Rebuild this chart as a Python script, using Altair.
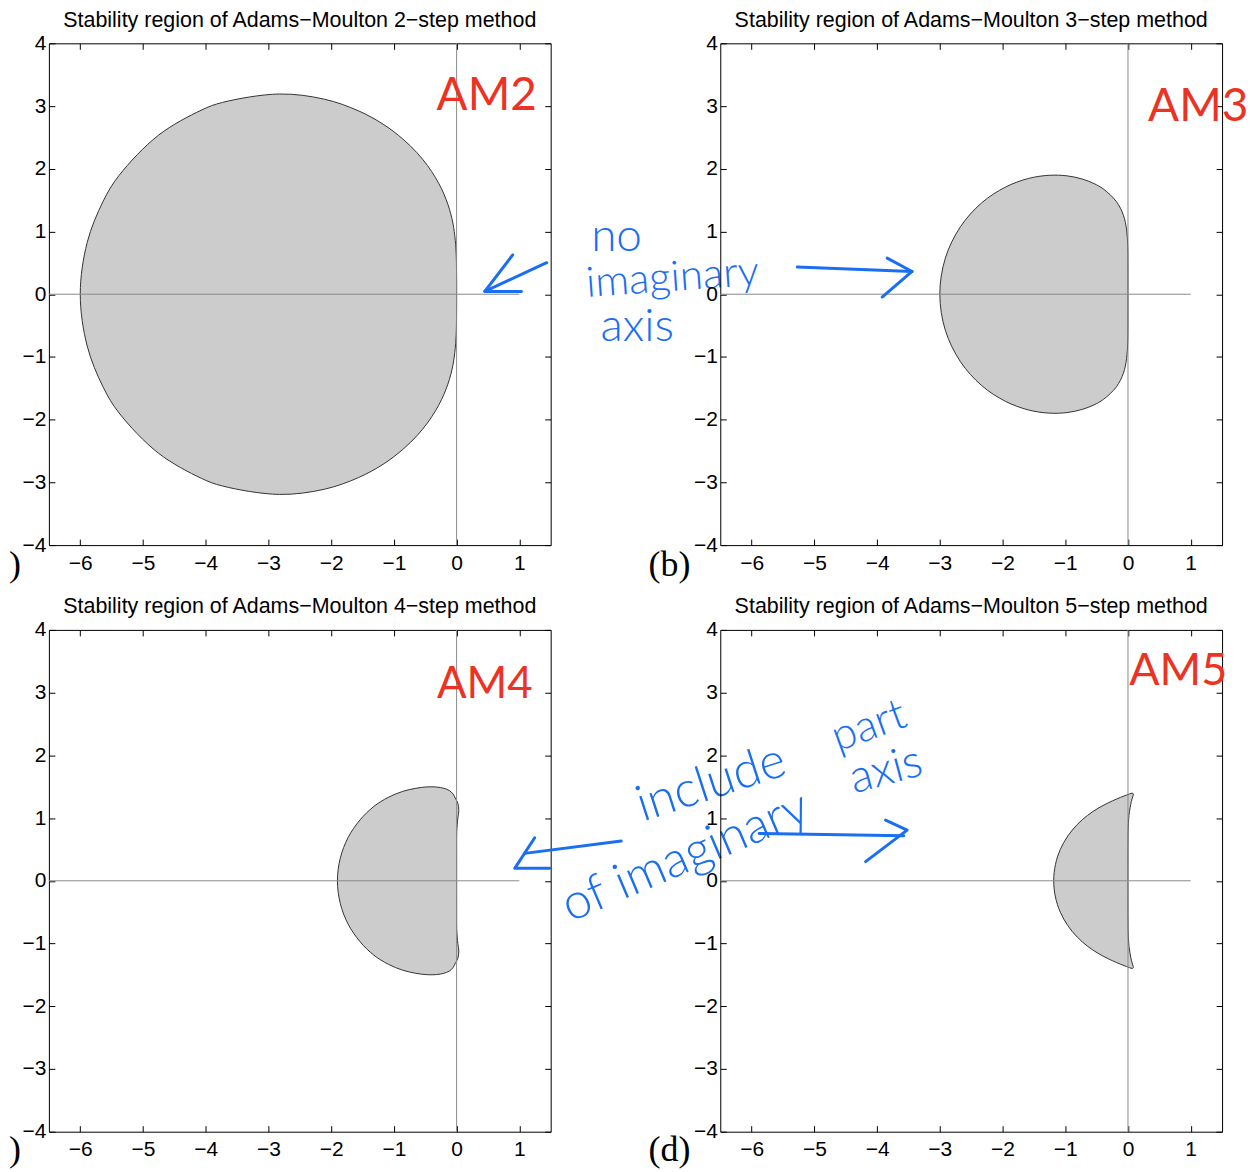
import altair as alt
import pandas as pd

FONT = "Liberation Sans"
HAND = "Lato"
RED = "#ec3323"
BLUE = "#1a6ef2"

TITLES = [
    "Stability region of Adams\u2212Moulton 2\u2212step method",
    "Stability region of Adams\u2212Moulton 3\u2212step method",
    "Stability region of Adams\u2212Moulton 4\u2212step method",
    "Stability region of Adams\u2212Moulton 5\u2212step method",
]
X_DOMAIN = [-6.5, 1.5]
Y_DOMAIN = [-4, 4]
XTICKS = [-6, -5, -4, -3, -2, -1, 0, 1]
YTICKS = [-4, -3, -2, -1, 0, 1, 2, 3, 4]

# zero lines (start, end)
HLINE_X = [-6.5, 1]
VLINE_Y = [-4, 4]

# boundary of each stability region (closed curves)
AM2_X = [0, -0.0002, -0.003, -0.015, -0.047, -0.075, -0.114, -0.168, -0.24, -0.336, -0.463, -0.632,
         -0.857, -1.158, -1.563, -2.107, -2.826, -3.732, -4.067, -4.753, -5.381, -5.635, -5.890, -6.0,
         -5.890, -5.635, -5.381, -4.753, -4.067, -3.732, -2.826, -2.107, -1.563, -1.158, -0.857,
         -0.632, -0.463, -0.336, -0.24, -0.168, -0.114, -0.075, -0.047, -0.015, -0.003, -0.0002, 0]
AM2_Y = [0, 0.262, 0.524, 0.790, 1.064, 1.207, 1.356, 1.513, 1.68, 1.858, 2.050, 2.256,
         2.474, 2.702, 2.923, 3.109, 3.192, 3.058, 2.936, 2.535, 1.894, 1.482, 0.824, 0,
         -0.824, -1.482, -1.894, -2.535, -2.936, -3.058, -3.192, -3.109, -2.923, -2.702, -2.474,
         -2.256, -2.050, -1.858, -1.68, -1.513, -1.356, -1.207, -1.064, -0.790, -0.524, -0.262, 0]

AM3_X = [0, 0, -0.0004, -0.004, -0.022, -0.073, -0.185, -0.392, -0.543, -0.735, -0.971, -1.256,
         -1.588, -1.955, -2.332, -2.671, -2.912, -3.0,
         -2.912, -2.671, -2.332, -1.955, -1.588, -1.256, -0.971, -0.735, -0.543, -0.392, -0.185,
         -0.073, -0.022, -0.004, -0.0004, 0, 0]
AM3_Y = [0, 0.262, 0.523, 0.779, 1.026, 1.259, 1.477, 1.677, 1.765, 1.838, 1.887, 1.896,
         1.845, 1.707, 1.457, 1.076, 0.575, 0,
         -0.575, -1.076, -1.457, -1.707, -1.845, -1.896, -1.887, -1.838, -1.765, -1.677, -1.477,
         -1.259, -1.026, -0.779, -0.523, -0.262, 0]

AM4_X = [0, 0, 0.0003, 0.002, 0.02, 0.035, 0.02, -0.022, -0.059, -0.119, -0.205, -0.320, -0.470,
         -0.650, -0.860, -1.090, -1.320, -1.540, -1.730, -1.855, -1.900,
         -1.855, -1.730, -1.540, -1.320, -1.090, -0.860, -0.650, -0.470, -0.320, -0.205, -0.119,
         -0.059, -0.022, 0.02, 0.035, 0.02, 0.002, 0.0003, 0, 0]
AM4_Y = [0, 0.262, 0.523, 0.782, 1.0, 1.12, 1.235, 1.319, 1.387, 1.441, 1.475, 1.495, 1.497,
         1.475, 1.425, 1.330, 1.185, 0.970, 0.690, 0.360, 0,
         -0.360, -0.690, -0.970, -1.185, -1.330, -1.425, -1.475, -1.497, -1.495, -1.475, -1.441,
         -1.387, -1.319, -1.235, -1.12, -1.0, -0.782, -0.523, -0.262, 0]

AM5_X = [0, 0, 0.0001, 0.0023, 0.016, 0.054, 0.076, 0.0855, 0.070, 0.0215, -0.063, -0.179, -0.320,
         -0.479, -0.646, -0.810, -0.959, -1.079, -1.157, -1.184,
         -1.157, -1.079, -0.959, -0.810, -0.646, -0.479, -0.320, -0.179, -0.063, 0.0215, 0.070,
         0.0855, 0.076, 0.054, 0.016, 0.0023, 0.0001, 0, 0]
AM5_Y = [0, 0.262, 0.524, 0.786, 1.044, 1.265, 1.341, 1.385, 1.397, 1.384, 1.352, 1.305, 1.240,
         1.155, 1.042, 0.896, 0.715, 0.500, 0.257, 0,
         -0.257, -0.500, -0.715, -0.896, -1.042, -1.155, -1.240, -1.305, -1.352, -1.384, -1.397,
         -1.385, -1.341, -1.265, -1.044, -0.786, -0.524, -0.262, 0]

# red handwritten labels: text, x, y, size (data units of each panel)
RED_TEXT = ["AM2", "AM3", "AM4", "AM5"]
RED_X = [0.48, 1.12, 0.45, 0.80]
RED_Y = [3.16, 2.98, 3.125, 3.35]
RED_SIZE = [46, 46, 44, 45]

# panel letters (bottom-left of panels)
LETTERS = [")", "(b)", ")", "(d)"]
LETTER_X = [-7.04, -7.31, -7.04, -7.31]
LETTER_Y = [-4.32, -4.32, -4.30, -4.30]

# blue handwritten notes: panel, text, x, y, angle, size
NOTE_PANEL = [0, 0, 0, 2, 2, 3, 3]
NOTE_TEXT = ["no", "imaginary", "axis", "include", "of imaginary", "part", "axis"]
NOTE_X = [2.55, 3.44, 2.88, 4.06, 3.65, -4.13, -3.86]
NOTE_Y = [0.91, 0.26, -0.53, 1.55, 0.38, 2.46, 1.76]
NOTE_ANGLE = [0, 356, 0, 342, 337, 340, 345]
NOTE_SIZE = [46, 42, 46, 50, 50, 44, 46]

# blue arrows: panel, stroke id, x, y
ARROW_PANEL = [0, 0, 0, 0, 0,
               1, 1, 1, 1, 1,
               2, 2, 2, 2, 2,
               3, 3, 3, 3, 3]
ARROW_STROKE = [0, 0, 1, 1, 1,
                0, 0, 1, 1, 1,
                0, 0, 1, 1, 1,
                0, 0, 1, 1, 1]
ARROW_X = [1.436, 0.450, 0.895, 0.450, 1.034,
           -5.271, -3.442, -3.839, -3.442, -3.919,
           2.624, 1.086, 1.245, 0.927, 1.484,
           -5.880, -3.574, -3.865, -3.521, -4.183]
ARROW_Y = [0.502, 0.045, 0.628, 0.045, 0.045,
           0.433, 0.363, 0.576, 0.363, -0.045,
           0.633, 0.437, 0.687, 0.199, 0.199,
           0.755, 0.719, 0.967, 0.808, 0.305]

REGIONS = [(AM2_X, AM2_Y), (AM3_X, AM3_Y), (AM4_X, AM4_Y), (AM5_X, AM5_Y)]

W = 503
XS = alt.Scale(domain=X_DOMAIN, nice=False, zero=False)
YS = alt.Scale(domain=Y_DOMAIN, nice=False, zero=False)

AX_B = alt.Axis(values=XTICKS, orient="bottom", title=None, domain=False, grid=False,
                tickSize=6, offset=-6, tickColor="black", tickWidth=1, minExtent=0,
                labelFont=FONT, labelFontSize=21, labelColor="black", labelPadding=7,
                labelFlush=False, labelOverlap=False)
AX_L = alt.Axis(values=YTICKS, orient="left", title=None, domain=False, grid=False,
                tickSize=6, offset=-6, tickColor="black", tickWidth=1, minExtent=0,
                labelFont=FONT, labelFontSize=21, labelColor="black", labelPadding=3,
                labelFlush=False, labelOverlap=False)
AX_T = alt.Axis(values=XTICKS, orient="top", title=None, domain=False, grid=False, labels=False,
                tickSize=6, offset=-6, tickColor="black", tickWidth=1, minExtent=0, maxExtent=0)
AX_R = alt.Axis(values=YTICKS, orient="right", title=None, domain=False, grid=False, labels=False,
                tickSize=6, offset=-6, tickColor="black", tickWidth=1, minExtent=0, maxExtent=0)


def px(field):
    return alt.X(field, scale=XS, axis=None)


def py(field):
    return alt.Y(field, scale=YS, axis=None)


def make_panel(i):
    xs, ys = REGIONS[i]
    rdf = pd.DataFrame({"x": xs, "y": ys, "k": list(range(len(xs)))})
    region = alt.Chart(rdf).mark_line(
        fill="#cccccc", stroke="#333333", strokeWidth=1, interpolate="catmull-rom"
    ).encode(
        x=alt.X("x:Q", scale=XS, axis=AX_B),
        y=alt.Y("y:Q", scale=YS, axis=AX_L),
        order=alt.Order("k:Q"),
    )
    ldf = pd.DataFrame({"x": [HLINE_X[0], 0], "x2": [HLINE_X[1], 0],
                        "y": [0, VLINE_Y[0]], "y2": [0, VLINE_Y[1]]})
    lines = alt.Chart(ldf).mark_rule(color="#8a8a8a", strokeWidth=1).encode(
        x=alt.X("x:Q", scale=XS, axis=AX_T), x2="x2:Q",
        y=alt.Y("y:Q", scale=YS, axis=AX_R), y2="y2:Q",
    )
    layers = [region, lines]

    red = alt.Chart(pd.DataFrame({"x": [RED_X[i]], "y": [RED_Y[i]], "t": [RED_TEXT[i]]})).mark_text(
        font=HAND, fontSize=RED_SIZE[i], color=RED, align="center", baseline="middle"
    ).encode(x=px("x:Q"), y=py("y:Q"), text="t:N")
    layers.append(red)

    let = alt.Chart(pd.DataFrame({"x": [LETTER_X[i]], "y": [LETTER_Y[i]], "t": [LETTERS[i]]})).mark_text(
        font="Liberation Serif", fontSize=36, color="black", align="center", baseline="middle"
    ).encode(x=px("x:Q"), y=py("y:Q"), text="t:N")
    layers.append(let)

    for j in range(len(NOTE_TEXT)):
        if NOTE_PANEL[j] != i:
            continue
        nd = pd.DataFrame({"x": [NOTE_X[j]], "y": [NOTE_Y[j]], "t": [NOTE_TEXT[j]]})
        layers.append(alt.Chart(nd).mark_text(
            font=HAND, fontSize=NOTE_SIZE[j], color=BLUE, align="center", baseline="middle",
            angle=NOTE_ANGLE[j], fontWeight=300
        ).encode(x=px("x:Q"), y=py("y:Q"), text="t:N"))

    idx = [k for k in range(len(ARROW_X)) if ARROW_PANEL[k] == i]
    if idx:
        adf = pd.DataFrame({"x": [ARROW_X[k] for k in idx], "y": [ARROW_Y[k] for k in idx],
                            "s": [ARROW_STROKE[k] for k in idx], "k": list(range(len(idx)))})
        layers.append(alt.Chart(adf).mark_line(
            color=BLUE, strokeWidth=3, strokeCap="round", strokeJoin="round"
        ).encode(x=px("x:Q"), y=py("y:Q"), detail="s:N", order="k:Q"))

    title = alt.TitleParams(text=TITLES[i], font=FONT, fontSize=21.5, fontWeight="normal",
                            color="black", offset=-16, baseline="alphabetic", frame="group",
                            anchor="middle")
    return alt.layer(*layers).resolve_axis(x="independent", y="independent").properties(
        width=W, height=W, title=title)


chart = alt.concat(
    make_panel(0), make_panel(1), make_panel(2), make_panel(3),
    columns=2, spacing={"row": 85, "column": 170}, bounds="flush"
).properties(
    padding=0, background="white"
).configure_view(stroke="black", strokeWidth=1)

chart.save("out.html", embed_options={"renderer": "svg", "actions": False})
